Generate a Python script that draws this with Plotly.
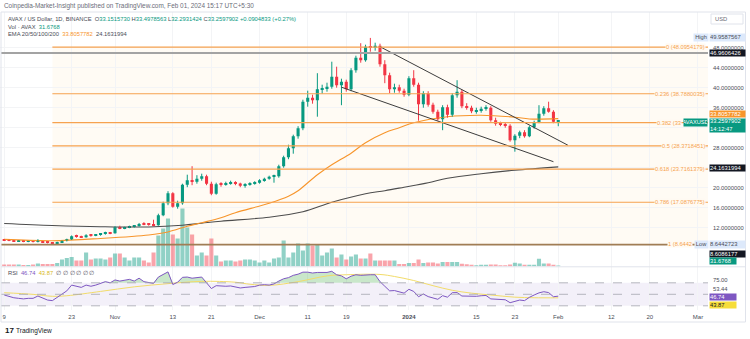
import plotly.graph_objects as go
import pandas as pd
from datetime import datetime, timedelta

# ---------------- DATA ----------------
dates = pd.date_range("2023-10-09", periods=116, freq="D")

opens = [9.60, 9.45, 9.40, 9.30, 9.35, 9.20, 9.25, 9.15, 9.30, 9.10, 8.95,
         8.85, 9.10, 9.35, 9.65, 10.30, 10.20, 10.10, 10.50, 10.40, 10.55, 10.75, 11.00,
         10.90, 12.10, 11.90, 12.00, 12.20, 12.35, 12.75, 12.70, 12.60,
         12.50, 14.50, 16.90, 18.90, 16.20, 16.90, 20.60, 21.50, 21.20, 21.80, 22.30, 20.80, 18.80,
         20.70, 20.60, 20.90, 21.00, 20.85, 20.40, 20.70, 20.90, 21.00, 21.50, 21.80, 22.20,
         22.30, 24.30, 26.10, 27.90, 30.30, 31.90, 37.20, 38.00, 37.50, 39.70, 39.90, 40.20,
         42.20, 40.50, 41.20, 39.70, 43.50, 46.00, 45.50, 48.20, 48.00, 48.40, 44.70, 42.50, 39.70,
         40.10, 39.40, 38.60, 41.90, 40.60, 36.70, 38.90, 36.60, 35.20, 33.70, 36.10, 34.60, 38.50,
         39.20, 36.30, 36.00, 35.30, 35.50, 35.80, 36.00, 33.50, 32.80, 32.70, 32.40, 29.50, 30.40,
         31.10, 30.30, 32.10, 33.10, 34.80, 35.90, 35.20, 33.1515730]
highs = [9.75, 9.60, 9.50, 9.45, 9.40, 9.35, 9.30, 9.70, 9.35, 9.20, 9.05,
         9.20, 9.45, 9.80, 10.45, 10.60, 10.40, 10.70, 10.65, 10.70, 10.90, 11.20, 11.15,
         12.30, 12.40, 12.20, 12.40, 12.50, 12.95, 13.10, 12.90, 13.60,
         14.80, 17.20, 19.30, 19.10, 17.40, 20.80, 22.60, 24.30, 22.50, 22.80, 22.60, 21.20, 21.00,
         21.10, 21.20, 21.40, 21.30, 21.00, 20.90, 21.10, 21.30, 21.70, 22.00, 22.40, 22.60,
         24.60, 26.40, 28.60, 30.60, 32.30, 37.60, 39.40, 38.60, 42.90, 40.60, 41.00, 45.20,
         44.20, 41.80, 41.60, 43.90, 46.40, 48.90, 48.60, 49.9587567, 49.00, 48.80, 45.50, 43.00, 40.80,
         40.60, 39.80, 42.30, 43.50, 41.00, 39.30, 39.30, 37.00, 35.60, 36.50, 36.60, 38.90, 41.50,
         39.60, 36.90, 36.40, 36.00, 36.20, 36.50, 36.30, 34.00, 33.20, 33.10, 32.70, 30.70, 31.40,
         31.50, 32.40, 33.40, 36.50, 36.30, 37.20, 35.50, 33.4978563]
lows = [9.40, 9.30, 9.20, 9.20, 9.10, 9.10, 9.05, 9.05, 9.00, 8.85, 8.6442723,
        8.75, 9.00, 9.25, 9.55, 10.00, 9.95, 10.00, 10.20, 10.30, 10.40, 10.60, 10.70,
        10.80, 11.70, 11.70, 11.90, 12.00, 12.20, 12.50, 12.40, 12.30,
        12.40, 14.30, 16.50, 16.00, 15.80, 16.60, 20.10, 20.50, 20.80, 21.40, 20.50, 18.50, 18.60,
        20.20, 20.40, 20.60, 20.50, 20.10, 20.00, 20.40, 20.60, 20.80, 21.20, 21.60, 21.00,
        22.00, 24.00, 25.70, 26.80, 29.80, 31.50, 36.20, 36.80, 34.20, 38.80, 39.20, 39.80,
        40.00, 36.50, 39.20, 39.30, 43.00, 45.00, 45.20, 47.20, 47.40, 44.20, 40.90, 38.90, 39.00,
        39.00, 38.20, 38.30, 40.20, 33.40, 36.00, 36.20, 34.80, 33.40, 31.50, 34.00, 34.20, 38.00,
        35.90, 35.60, 34.90, 34.80, 35.00, 35.40, 33.20, 32.40, 32.30, 32.00, 29.20, 27.20, 29.90,
        30.00, 30.10, 31.80, 32.90, 34.40, 35.00, 32.90, 32.2931424]
closes = [9.45, 9.40, 9.30, 9.35, 9.20, 9.25, 9.15, 9.30, 9.10, 8.95, 8.85,
          9.10, 9.35, 9.65, 10.30, 10.20, 10.10, 10.50, 10.40, 10.55, 10.75, 11.00, 10.90,
          12.10, 11.90, 12.00, 12.20, 12.35, 12.75, 12.70, 12.60, 12.50,
          14.50, 16.90, 18.90, 16.20, 16.90, 20.60, 21.50, 21.20, 21.80, 22.30, 20.80, 18.80, 20.70,
          20.60, 20.90, 21.00, 20.85, 20.40, 20.70, 20.90, 21.00, 21.50, 21.80, 22.20, 22.30,
          24.30, 26.10, 27.90, 30.30, 31.90, 37.20, 38.00, 37.50, 39.70, 39.90, 40.20, 42.20,
          40.50, 41.20, 39.70, 43.50, 46.00, 45.50, 48.20, 48.00, 48.40, 44.70, 42.50, 39.70, 40.10,
          39.40, 38.60, 41.90, 40.60, 36.70, 38.90, 36.60, 35.20, 33.70, 36.10, 34.60, 38.50, 39.20,
          36.30, 36.00, 35.30, 35.50, 35.80, 36.00, 33.50, 32.80, 32.70, 32.40, 29.50, 30.40, 31.10,
          30.30, 32.10, 33.10, 34.80, 35.90, 35.20, 33.1693069, 33.2597902]

# volume (thousands AVAX)
volumes = [63.4, 63.4, 63.4, 63.4, 47.5, 47.5, 63.4, 95.0, 79.2, 79.2, 79.2,
           110.9, 221.8, 269.3, 301.0, 190.1, 190.1, 443.5, 221.8, 253.4, 253.4, 221.8, 285.1,
           411.8, 411.8, 285.1, 190.1, 285.1, 285.1, 190.1, 126.7, 443.5,
           982.1, 1203.8, 1520.6, 1013.8, 887.0, 1837.4, 1235.5, 1013.8, 348.5, 443.5, 348.5, 887.0, 348.5,
           158.4, 190.1, 190.1, 158.4, 190.1, 221.8, 221.8, 190.1, 126.7, 190.1, 126.7, 253.4,
           285.1,
           823.7, 285.1, 443.5, 728.6, 506.9, 728.6, 665.3, 697.0, 348.5, 443.5, 570.2,
           285.1, 380.2, 221.8, 316.8, 380.2, 253.4, 253.4, 411.8, 190.1, 190.1, 190.1, 190.1, 190.1,
           79.2, 79.2, 110.9, 110.9, 221.8, 110.9, 126.7, 126.7, 95.0, 142.6, 142.6, 142.6, 142.6,
           85.5, 72.9, 53.9, 41.2, 53.9, 53.9, 63.4, 63.4, 41.2, 41.2, 63.4, 117.2, 95.0, 53.9,
           53.9, 53.9, 243.9, 95.0, 95.0, 53.9, 31.6768]

rsi = [48.8, 46.0, 44.0, 43.0, 42.0, 43.0, 43.0, 47.0, 43.0, 40.0, 39.0,
       45.0, 50.0, 56.0, 66.0, 64.0, 62.0, 66.0, 64.0, 66.0, 69.0, 72.0, 70.0,
       75.0, 73.0, 74.0, 76.0, 73.0, 78.0, 72.0, 70.0, 69.0,
       80.0, 85.0, 89.0, 67.0, 71.0, 79.5, 80.0, 78.0, 79.0, 80.0, 70.0, 60.0, 65.0,
       64.0, 64.0, 64.5, 63.0, 61.0, 62.0, 63.0, 63.5, 66.0, 66.7, 66.0, 68.0,
       73.0, 77.0, 79.0, 83.0, 85.0, 88.5, 88.5, 87.0, 88.0, 88.0, 88.0, 90.0,
       84.0, 82.0, 77.0, 81.5, 84.0, 83.0, 84.0, 84.0, 84.0, 72.0, 64.0, 56.0, 56.5,
       54.5, 52.0, 58.7, 55.0, 45.8, 50.5, 46.0, 43.0, 41.3, 47.6, 45.0, 52.8, 53.0,
       47.0, 46.5, 46.0, 46.5, 47.5, 48.0, 42.0, 41.5, 41.5, 40.5, 35.4, 38.0, 40.0,
       39.0, 44.7, 48.8, 52.5, 54.5, 53.0, 45.8, 46.74]

rsima_dates = ["2023-10-09", "2023-10-15", "2023-10-19", "2023-10-22", "2023-10-29", "2023-11-05",
               "2023-11-12", "2023-11-19", "2023-11-26", "2023-11-29", "2023-12-03", "2023-12-09",
               "2023-12-15", "2023-12-19", "2023-12-26", "2023-12-29", "2024-01-02", "2024-01-06",
               "2024-01-10", "2024-01-14", "2024-01-18", "2024-01-23", "2024-01-27", "2024-02-01"]
rsima_vals = [52.8, 49.9, 46.5, 47.5, 55.0, 63.0, 68.5, 72.5, 71.0, 67.5, 65.5, 72.0,
              82.0, 84.0, 84.5, 81.0, 74.0, 65.0, 57.0, 52.0, 48.8, 45.0, 44.0, 43.87]

ema50_dates = ["2023-10-09", "2023-10-19", "2023-10-29", "2023-11-08", "2023-11-12", "2023-11-16",
               "2023-11-19", "2023-11-23", "2023-11-26", "2023-12-03", "2023-12-07", "2023-12-09",
               "2023-12-13", "2023-12-16", "2023-12-20", "2023-12-23", "2023-12-27", "2023-12-30",
               "2024-01-02", "2024-01-09", "2024-01-16", "2024-01-23", "2024-01-26", "2024-02-01"]
ema50_vals = [9.67, 9.40, 9.85, 10.55, 11.15, 12.30, 13.00, 14.00, 15.00, 16.90, 18.30, 19.40,
              22.60, 24.60, 26.90, 29.00, 31.00, 32.00, 33.00, 34.20, 34.50, 34.10, 33.75, 33.8057782]

ema200_dates = ["2023-10-09", "2023-10-19", "2023-10-29", "2023-11-08", "2023-11-15", "2023-11-19",
                "2023-11-23", "2023-12-03", "2023-12-10", "2023-12-16", "2023-12-23", "2023-12-27",
                "2023-12-31", "2024-01-05", "2024-01-09", "2024-01-16", "2024-01-23", "2024-02-01"]
ema200_vals = [12.85, 12.45, 12.20, 12.15, 12.50, 12.90, 13.30, 14.10, 15.20, 17.10, 18.80, 19.40,
               20.10, 21.00, 21.90, 22.80, 23.50, 24.1631994]

fib_ratios = ["0", "0.236", "0.382", "0.5", "0.618", "0.786", "1"]
fib_prices = [48.0954179, 38.7880035, 33.0250803, 28.3718451, 23.7161379, 17.0876775, 8.6442723]
# label text as visible (0.382 and 1 are partly hidden behind price-scale boxes)
fib_labels = ["0 (48.0954179)", "0.236 (38.7880035)", "0.382 (33", "0.5 (28.3718451)",
              "0.618 (23.7161379)", "0.786 (17.0876775)", "1 (8.6442"]
fib_start = "2023-10-19"

hline_prices = [46.9606426, 8.6086177]

wedge_upper_dates = ["2023-12-26", "2024-02-03"]
wedge_upper_prices = [48.2, 28.5]
wedge_lower_dates = ["2023-12-18", "2024-01-31"]
wedge_lower_prices = [40.1, 25.2]

price_ticks = [12, 16, 20, 24, 28, 32, 36, 40, 44, 48]
price_ticktext = ["12.0000000", "16.0000000", "20.0000000", "", "28.0000000", "",
                  "36.0000000", "40.0000000", "44.0000000", "48.0000000"]

date_ticks = ["2023-10-09", "2023-10-23", "2023-11-01", "2023-11-13", "2023-11-21", "2023-12-01",
              "2023-12-11", "2023-12-19", "2024-01-01", "2024-01-15", "2024-01-23", "2024-02-01",
              "2024-02-12", "2024-02-20", "2024-03-01"]
date_ticktext = ["9", "23", "Nov", "13", "21", "Dec", "11", "19", "<b>2024</b>", "15", "23", "Feb",
                 "12", "20", "Mar"]

# ---------------- LAYOUT CONSTANTS ----------------
W, H = 750, 339
PLOT_R = 708
MAIN_TOP, MAIN_BOT = 12, 266.5
RSI_TOP, RSI_BOT = 267, 310
PX_PER_DAY = 4.818
NOV1_PX = 115
Y48_PX = 47.7
PX_PER_USD = 5.0
R50_PX = 294.3
PX_PER_RSI = 0.575
VOL_PER_PX = 31.68

UP, DN = "#089981", "#F23645"
UPV, DNV = "rgba(8,153,129,0.45)", "rgba(242,54,69,0.45)"
FIBC = "#f6a24f"
FONT = "Liberation Sans, Arial, sans-serif"


def py(p):
    return 1 - p / H


def px(x):
    return x / W


nov1 = datetime(2023, 11, 1)
x0 = nov1 - timedelta(days=NOV1_PX / PX_PER_DAY)
x1 = nov1 + timedelta(days=(PLOT_R - NOV1_PX) / PX_PER_DAY)
p_top = 48 + (Y48_PX - MAIN_TOP) / PX_PER_USD
p_bot = 48 - (MAIN_BOT - Y48_PX) / PX_PER_USD
r_top = 50 + (R50_PX - RSI_TOP) / PX_PER_RSI
r_bot = 50 - (RSI_BOT - R50_PX) / PX_PER_RSI
DAY_MS = 86400000

fig = go.Figure()

# volume (base axis y, drawn below price)
vcol = [UPV if c >= o else DNV for o, c in zip(opens, closes)]
fig.add_trace(go.Bar(x=dates, y=volumes, marker_color=vcol, marker_line_width=0,
                     width=0.85 * DAY_MS, xaxis="x", yaxis="y", hoverinfo="skip"))

# EMAs
fig.add_trace(go.Scatter(x=ema200_dates, y=ema200_vals, mode="lines", line=dict(color="#4d4d4d", width=1.1, shape="spline"),
                         xaxis="x", yaxis="y2", hoverinfo="skip"))
fig.add_trace(go.Scatter(x=ema50_dates, y=ema50_vals, mode="lines", line=dict(color="#f7952b", width=1.1, shape="spline"),
                         xaxis="x", yaxis="y2", hoverinfo="skip"))

# candles: wicks
for col, cond in ((UP, True), (DN, False)):
    wx, wy = [], []
    for d, o, h, l, c in zip(dates, opens, highs, lows, closes):
        if (c >= o) == cond:
            wx += [d, d, None]
            wy += [l, h, None]
    fig.add_trace(go.Scatter(x=wx, y=wy, mode="lines", line=dict(color=col, width=1),
                             xaxis="x", yaxis="y2", hoverinfo="skip"))
# candles: bodies
bcol = [UP if c >= o else DN for o, c in zip(opens, closes)]
bbase = [min(o, c) for o, c in zip(opens, closes)]
bh = [max(abs(c - o), 0.2) for o, c in zip(opens, closes)]
fig.add_trace(go.Bar(x=dates, y=bh, base=bbase, marker_color=bcol, marker_line_width=0,
                     width=0.64 * DAY_MS, xaxis="x", yaxis="y2", hoverinfo="skip"))

# wedge lines
fig.add_trace(go.Scatter(x=wedge_upper_dates, y=wedge_upper_prices, mode="lines",
                         line=dict(color="#3c3c3c", width=1), xaxis="x", yaxis="y2", hoverinfo="skip"))
fig.add_trace(go.Scatter(x=wedge_lower_dates, y=wedge_lower_prices, mode="lines",
                         line=dict(color="#3c3c3c", width=1), xaxis="x", yaxis="y2", hoverinfo="skip"))

# RSI pane
fig.add_trace(go.Scatter(x=dates, y=[70] * len(dates), mode="lines", line=dict(width=0),
                         xaxis="x", yaxis="y3", hoverinfo="skip"))
fig.add_trace(go.Scatter(x=dates, y=[max(r, 70) for r in rsi], mode="lines", line=dict(width=0),
                         fill="tonexty", fillcolor="rgba(76,175,80,0.30)",
                         xaxis="x", yaxis="y3", hoverinfo="skip"))
fig.add_trace(go.Scatter(x=rsima_dates, y=rsima_vals, mode="lines", line=dict(color="#f2dc6a", width=1, shape="spline"),
                         xaxis="x", yaxis="y3", hoverinfo="skip"))
fig.add_trace(go.Scatter(x=dates, y=rsi, mode="lines", line=dict(color="#7E57C2", width=1),
                         xaxis="x", yaxis="y3", hoverinfo="skip"))

shapes = []
# fib background
shapes.append(dict(type="rect", xref="x", yref="y2", x0=fib_start, x1=x1, y0=fib_prices[-1], y1=fib_prices[0],
                   fillcolor="rgba(255,152,0,0.045)", line=dict(width=0), layer="below"))
for fp in fib_prices:
    shapes.append(dict(type="line", xref="x", yref="y2", x0=fib_start, x1=x1, y0=fp, y1=fp,
                       line=dict(color=FIBC, width=1.2), layer="above"))
shapes.append(dict(type="line", xref="paper", yref="y2", x0=px(1), x1=px(PLOT_R), y0=hline_prices[0], y1=hline_prices[0],
                   line=dict(color="#a3a3a3", width=2), layer="above"))
shapes.append(dict(type="line", xref="paper", yref="y2", x0=px(1), x1=px(PLOT_R), y0=hline_prices[1], y1=hline_prices[1],
                   line=dict(color="#a07d55", width=1.8), layer="above"))
# RSI band
shapes.append(dict(type="rect", xref="paper", yref="y3", x0=px(1), x1=px(PLOT_R), y0=30, y1=70,
                   fillcolor="rgba(126,87,194,0.09)", line=dict(width=0), layer="below"))
for lv in (70, 50, 30):
    shapes.append(dict(type="line", xref="paper", yref="y3", x0=px(1), x1=px(PLOT_R), y0=lv, y1=lv,
                       line=dict(color="#a3a6ae", width=0.8, dash="dash"), layer="above"))
# frame, separators
shapes.append(dict(type="rect", xref="paper", yref="paper", x0=px(1), x1=px(745.5), y0=py(322), y1=py(12),
                   line=dict(color="#e0e3eb", width=1), fillcolor="rgba(0,0,0,0)", layer="above"))
shapes.append(dict(type="line", xref="paper", yref="paper", x0=px(1), x1=px(745.5), y0=py(266.8), y1=py(266.8),
                   line=dict(color="#e0e3eb", width=1), layer="above"))
shapes.append(dict(type="rect", xref="paper", yref="paper", x0=px(711), x1=px(743), y0=py(24), y1=py(14),
                   line=dict(color="#e0e3eb", width=1), fillcolor="white", layer="above"))

ann = []


def txt(text, x, y, size=6, color="#131722", xanchor="left", yref="paper", bg=None, w=None, h=None,
        align="left", yanchor="middle"):
    d = dict(text=text, x=px(x), y=(py(y) if yref == "paper" else y), xref="paper", yref=yref,
             xanchor=xanchor, yanchor=yanchor, showarrow=False, align=align,
             font=dict(family=FONT, size=size, color=color), borderpad=0)
    if bg:
        d["bgcolor"] = bg
    if w:
        d["width"] = w
    if h:
        d["height"] = h
    ann.append(d)


G = "#089981"
txt("Coinpedia-Market-Insight published on TradingView.com, Feb 01, 2024 15:17 UTC+5:30", 3, 6, size=6.4,
    color="#6a6d78")
txt("AVAX / US Dollar, 1D, BINANCE  O<span style='color:%s'>33.1515730</span> H<span style='color:%s'>33.4978563</span> "
    "L<span style='color:%s'>32.2931424</span> C<span style='color:%s'>33.2597902</span> "
    "<span style='color:%s'>+0.0904833 (+0.27%%)</span>" % (G, G, G, G, G), 7, 19.2, size=5.8, color="#4a4d57")
txt("Vol · AVAX  <span style='color:%s'>31.6768</span>" % G, 7, 26.6, size=5.8, color="#4a4d57")
txt("EMA 20/50/100/200  <span style='color:#f7952b'>33.8057782</span>  24.1631994", 7, 34.2, size=5.8,
    color="#4a4d57")
txt("RSI  <span style='color:#7E57C2'>46.74</span>  <span style='color:#d8b81c'>43.87</span>  ∅ ∅ ∅ ∅ ∅ ∅", 7, 273.3,
    size=5.8, color="#4a4d57")
txt("<b>17</b>", 4, 330.5, size=8, color="#131722")
txt("TradingView", 15, 330.5, size=6.5, color="#131722")
txt("USD", 714, 19, size=5.8, color="#6a6d78")

# fib labels (right ends sit against the price-scale boxes where those cover them)
fib_label_right = [706, 706, 682, 706, 706, 706, 692.5]
for lab, fp, xr in zip(fib_labels, fib_prices, fib_label_right):
    txt(lab, xr, fp, size=5.7, color=FIBC, xanchor="right", yref="y2", bg="#fffaf2")

# right-side value labels
LBLUE = "#dde9fb"
txt("High", 693, 49.9587567, size=5.7, color="#4a4d57", yref="y2", bg=LBLUE, w=14, h=6.5, align="center")
txt("49.9587567", 709, 49.9587567, size=5.8, color="#4a4d57", yref="y2", bg=LBLUE, w=35, h=6.5)
txt("46.9606426", 709, 46.9606426, size=5.8, color="white", yref="y2", bg="#131722", w=35, h=6)
txt("33.8057782", 709, 114.3, size=5.8, color="white", bg="#f7952b", w=35, h=6.3)
txt("33.2597902<br>14:12:47", 709, 125.4, size=5.8, color="white", bg=G, w=35, h=12.5)
txt("AVAXUSD", 683, 122.2, size=5.6, color="white", bg=G, w=23, h=6.5, align="center")
txt("24.1631994", 709, 168.3, size=5.8, color="white", bg="#131722", w=35, h=6)
txt("Low", 694, 8.6442723, size=5.7, color="#4a4d57", yref="y2", bg=LBLUE, w=13, h=6.5, align="center")
txt("8.6442723", 709, 8.6442723, size=5.8, color="#4a4d57", yref="y2", bg=LBLUE, w=35, h=6.5)
txt("8.6086177", 709, 253.5, size=5.8, color="white", bg="#131722", w=35, h=6)
txt("31.6768", 709, 261.2, size=5.8, color="white", bg=G, w=26, h=6)
txt("75.00", 712, 279.5, size=5.8, color="#4a4d57")
txt("53.44", 712, 288.7, size=5.8, color="#4a4d57")
txt("46.74", 709, 296.7, size=5.8, color="white", bg="#7E57C2", w=26, h=6)
txt("43.87", 709, 304.7, size=5.8, color="#131722", bg="#f6dd3a", w=26, h=6)

fig.update_layout(
    width=W, height=H, margin=dict(l=0, r=0, t=0, b=0, pad=0),
    paper_bgcolor="white", plot_bgcolor="white", showlegend=False, barmode="overlay",
    xaxis=dict(domain=[0, px(PLOT_R)], anchor="y3", type="date", range=[x0, x1],
               tickmode="array", tickvals=date_ticks, ticktext=date_ticktext,
               tickfont=dict(family=FONT, size=6, color="#4a4d57"), ticks="", showline=False,
               showgrid=True, gridcolor="#f3f4f6", gridwidth=1, zeroline=False, ticklabelstandoff=2),
    yaxis=dict(domain=[py(MAIN_BOT), py(MAIN_TOP)], anchor="x", range=[0, (MAIN_BOT - MAIN_TOP) * VOL_PER_PX],
               visible=False, showgrid=False),
    yaxis2=dict(overlaying="y", anchor="x", side="right", range=[p_bot, p_top],
                tickmode="array", tickvals=price_ticks, ticktext=price_ticktext,
                tickfont=dict(family=FONT, size=5.8, color="#4a4d57"), ticks="", showline=False,
                showgrid=True, gridcolor="#f3f4f6", zeroline=False, ticklabelstandoff=4),
    yaxis3=dict(domain=[py(RSI_BOT), py(RSI_TOP)], anchor="x", range=[r_bot, r_top],
                showticklabels=False, showgrid=False, zeroline=False, ticks=""),
    shapes=shapes, annotations=ann,
)

fig.write_html("out.html")
